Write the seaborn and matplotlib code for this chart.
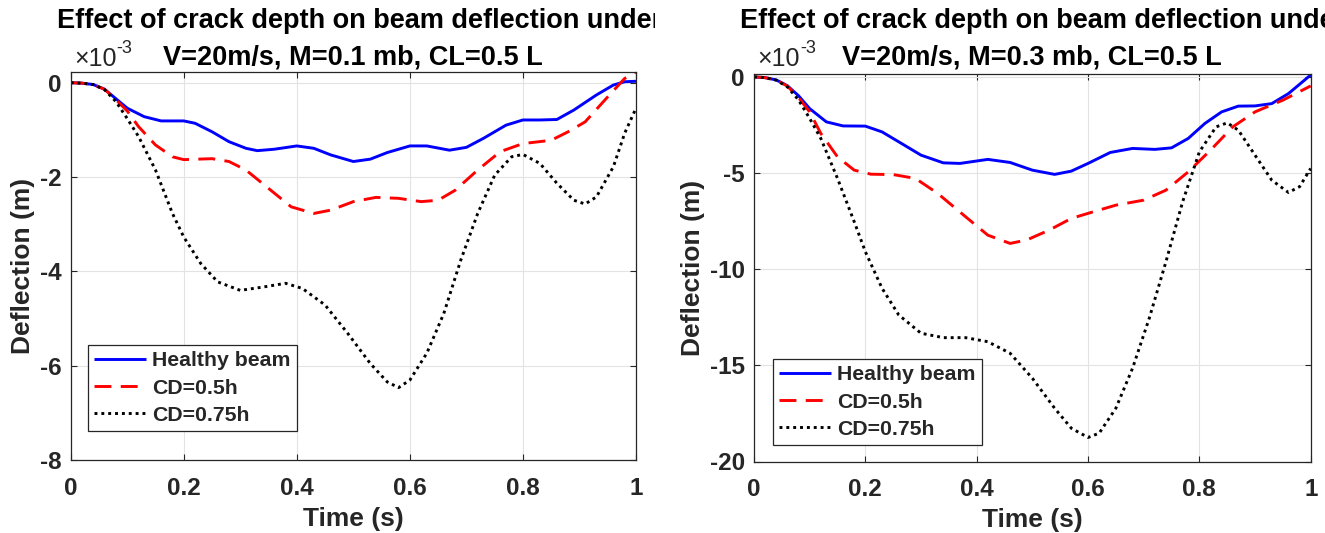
import numpy as np
import pandas as pd
import matplotlib
matplotlib.use('Agg')
import matplotlib.pyplot as plt
import seaborn as sns

# deflection values are in units of 1e-3 m (axis shows x10^-3)
series_names = ['Healthy beam', 'CD=0.5h', 'CD=0.75h']

# left panel: M = 0.1 mb
t_h1 = [0, 0.02, 0.04, 0.06, 0.08, 0.10, 0.13, 0.16, 0.20, 0.22, 0.25, 0.28, 0.31, 0.33, 0.36, 0.40,
        0.43, 0.46, 0.50, 0.53, 0.56, 0.60, 0.63, 0.67, 0.70, 0.73, 0.77, 0.80, 0.83, 0.86, 0.89,
        0.93, 0.96, 0.98, 1.00]
d_h1 = [0, -0.01, -0.04, -0.14, -0.34, -0.54, -0.72, -0.81, -0.81, -0.86, -1.04, -1.25, -1.39, -1.44,
        -1.41, -1.34, -1.39, -1.53, -1.67, -1.62, -1.48, -1.34, -1.34, -1.43, -1.37, -1.18, -0.90,
        -0.79, -0.79, -0.78, -0.58, -0.26, -0.05, 0.02, 0.03]
t_r1 = [0, 0.02, 0.04, 0.06, 0.08, 0.10, 0.12, 0.15, 0.18, 0.20, 0.25, 0.28, 0.31, 0.35, 0.39, 0.43,
        0.46, 0.50, 0.54, 0.58, 0.62, 0.65, 0.68, 0.72, 0.76, 0.80, 0.85, 0.88, 0.91, 0.95, 0.98, 1.00]
d_r1 = [0, -0.01, -0.04, -0.14, -0.36, -0.60, -0.93, -1.32, -1.57, -1.63, -1.61, -1.67, -1.85, -2.24,
        -2.63, -2.77, -2.70, -2.52, -2.43, -2.45, -2.52, -2.49, -2.28, -1.85, -1.46, -1.29, -1.22,
        -1.04, -0.83, -0.30, 0.09, 0.23]
t_b1 = [0, 0.02, 0.04, 0.06, 0.08, 0.10, 0.12, 0.15, 0.18, 0.20, 0.23, 0.26, 0.30, 0.34, 0.38, 0.41,
        0.45, 0.49, 0.53, 0.56, 0.58, 0.60, 0.63, 0.66, 0.69, 0.72, 0.75, 0.78, 0.80, 0.83, 0.86,
        0.89, 0.91, 0.93, 0.96, 0.98, 1.00]
d_b1 = [0, -0.01, -0.04, -0.15, -0.40, -0.76, -1.14, -1.85, -2.77, -3.27, -3.83, -4.22, -4.40, -4.33,
        -4.25, -4.36, -4.71, -5.31, -5.95, -6.34, -6.46, -6.30, -5.73, -4.89, -3.76, -2.77, -1.96,
        -1.57, -1.52, -1.71, -2.13, -2.49, -2.57, -2.42, -1.78, -1.07, -0.54]

# right panel: M = 0.3 mb
t_h2 = [0, 0.02, 0.04, 0.06, 0.08, 0.10, 0.13, 0.16, 0.20, 0.23, 0.27, 0.30, 0.34, 0.37, 0.42, 0.46,
        0.50, 0.54, 0.57, 0.60, 0.64, 0.68, 0.72, 0.75, 0.78, 0.81, 0.84, 0.87, 0.90, 0.93, 0.96, 1.00]
d_h2 = [0, -0.04, -0.16, -0.46, -0.98, -1.65, -2.34, -2.55, -2.56, -2.86, -3.55, -4.07, -4.47, -4.50,
        -4.29, -4.45, -4.85, -5.07, -4.90, -4.50, -3.93, -3.72, -3.77, -3.69, -3.20, -2.42, -1.82,
        -1.52, -1.51, -1.39, -0.87, 0.10]
t_r2 = [0, 0.02, 0.04, 0.06, 0.08, 0.10, 0.12, 0.15, 0.18, 0.21, 0.25, 0.29, 0.33, 0.38, 0.42, 0.46,
        0.49, 0.53, 0.57, 0.61, 0.65, 0.70, 0.74, 0.78, 0.82, 0.86, 0.90, 0.95, 1.00]
d_r2 = [0, -0.04, -0.16, -0.48, -1.08, -1.82, -2.94, -4.16, -4.85, -5.06, -5.08, -5.28, -6.06, -7.27,
        -8.23, -8.66, -8.48, -7.97, -7.36, -7.01, -6.67, -6.41, -5.89, -4.94, -3.81, -2.60, -1.82,
        -1.21, -0.47]
t_b2 = [0, 0.02, 0.04, 0.06, 0.08, 0.10, 0.12, 0.15, 0.18, 0.20, 0.23, 0.26, 0.30, 0.34, 0.38, 0.42,
        0.46, 0.50, 0.54, 0.57, 0.60, 0.62, 0.65, 0.68, 0.71, 0.74, 0.77, 0.80, 0.83, 0.85, 0.87,
        0.90, 0.93, 0.96, 0.98, 1.00]
d_b2 = [0, -0.04, -0.17, -0.52, -1.20, -2.16, -3.20, -5.28, -7.53, -9.09, -10.99, -12.38, -13.33,
        -13.56, -13.56, -13.77, -14.37, -15.67, -17.23, -18.27, -18.75, -18.53, -17.23, -15.15,
        -12.55, -9.61, -6.49, -3.90, -2.60, -2.39, -2.77, -4.07, -5.37, -6.01, -5.71, -4.76]

subtitles = ['V=20m/s, M=0.1 mb, CL=0.5 L', 'V=20m/s, M=0.3 mb, CL=0.5 L']
title_line1 = 'Effect of crack depth on beam deflection under'
yticks_1 = [0, -2, -4, -6, -8]
yticks_2 = [0, -5, -10, -15, -20]
xticks = [0, 0.2, 0.4, 0.6, 0.8, 1]
xtick_labels = ['0', '0.2', '0.4', '0.6', '0.8', '1']


def make_df(parts):
    frames = []
    for name, t, d in parts:
        frames.append(pd.DataFrame({'t': t, 'd': d, 'case': name}))
    return pd.concat(frames, ignore_index=True)


df1 = make_df([(series_names[0], t_h1, d_h1), (series_names[1], t_r1, d_r1), (series_names[2], t_b1, d_b1)])
df2 = make_df([(series_names[0], t_h2, d_h2), (series_names[1], t_r2, d_r2), (series_names[2], t_b2, d_b2)])

sns.set_style('ticks')
plt.rcParams['font.family'] = ['Liberation Sans', 'DejaVu Sans']
plt.rcParams['font.weight'] = 'bold'
plt.rcParams['axes.labelweight'] = 'bold'
plt.rcParams['axes.unicode_minus'] = False
plt.rcParams['lines.solid_capstyle'] = 'butt'
plt.rcParams['lines.dash_capstyle'] = 'butt'

W, H = 1325, 533
fig = plt.figure(figsize=(W / 100, H / 100), dpi=100)
fig.patch.set_facecolor('white')

palette = {series_names[0]: '#0000ff', series_names[1]: '#ff0000', series_names[2]: '#000000'}
dashes = {series_names[0]: '', series_names[1]: (5.8, 3.2), series_names[2]: (1, 1.35)}
dark = '#262626'

panels = [
    dict(df=df1, pos=[70.7, 72.3, 636, 460.3], ylim=(-8, 0.22), yticks=yticks_1,
         leg=(0.0306, 0.0755), ylab_x=-0.063),
    dict(df=df2, pos=[754, 74, 1310.7, 461.5], ylim=(-20, 0.15), yticks=yticks_2,
         leg=(0.0341, 0.0426), ylab_x=-0.088),
]

for i, p in enumerate(panels):
    x0, y0, x1, y1 = p['pos']
    ax = fig.add_axes([x0 / W, 1 - y1 / H, (x1 - x0) / W, (y1 - y0) / H])
    sns.lineplot(data=p['df'], x='t', y='d', hue='case', style='case', hue_order=series_names,
                 style_order=series_names, palette=palette, dashes=dashes, linewidth=2.1,
                 estimator=None, errorbar=None, legend=False, ax=ax)
    ax.set_xlim(0, 1)
    ax.set_ylim(*p['ylim'])
    ax.set_xticks(xticks)
    ax.set_xticklabels(xtick_labels)
    ax.set_yticks(p['yticks'])
    ax.grid(True, color='#e3e3e3', linewidth=0.8)
    ax.set_axisbelow(True)
    for s in ax.spines.values():
        s.set_visible(True)
        s.set_color(dark)
        s.set_linewidth(0.9)
    ax.tick_params(axis='both', direction='in', length=4.5, width=0.8, colors=dark,
                   labelsize=17.5, top=True, right=True)
    ax.tick_params(axis='x', pad=12)
    ax.tick_params(axis='y', pad=6.5)
    for lab in ax.get_xticklabels() + ax.get_yticklabels():
        lab.set_color(dark)
        lab.set_fontweight('bold')
    ax.set_xlabel('Time (s)', fontsize=19, color=dark)
    ax.set_ylabel('Deflection (m)', fontsize=19, color=dark)
    ax.xaxis.set_label_coords(0.5, -0.121)
    ax.yaxis.set_label_coords(p['ylab_x'], 0.5)

    leg = ax.legend(ax.lines[:3], series_names, loc='lower left', bbox_to_anchor=p['leg'],
                    borderaxespad=0, fancybox=False, framealpha=1, edgecolor=dark,
                    prop={'size': 15.3, 'weight': 'bold'}, handlelength=2.45,
                    handletextpad=0.27, labelspacing=0.38, borderpad=0.3)
    leg.get_frame().set_linewidth(0.9)

    # exponent label above the axes: "x10" with a raised "-3"
    base = fig.text((x0 + 3.5) / W, 1 - 65.5 / H, '\u00d710', fontsize=18,
                    fontweight='normal', color=dark, ha='left', va='baseline')
    ax.annotate('-3', xy=(1.0, 0.55), xycoords=base, ha='left', va='bottom', fontsize=13,
                fontweight='normal', color=dark, annotation_clip=False)
    # second title line, centered over the axes
    fig.text((x0 + x1) / 2 / W, 1 - 64 / H, subtitles[i], fontsize=19.5, fontweight='bold',
             color='black', ha='center', va='baseline')

# first title line, cut off at the panel edge as in the source figure
clip_left = fig.add_axes([0, 0, 655 / W, 1])
clip_left.axis('off')
clip_left.text(57 / W, 1 - 28 / H, title_line1, transform=fig.transFigure, fontsize=19.5,
               fontweight='bold', color='black', ha='left', va='baseline', clip_on=True)
fig.text(740 / W, 1 - 28 / H, title_line1, fontsize=19.5, fontweight='bold', color='black',
         ha='left', va='baseline')

fig.savefig('out.png', dpi=100, facecolor='white')
